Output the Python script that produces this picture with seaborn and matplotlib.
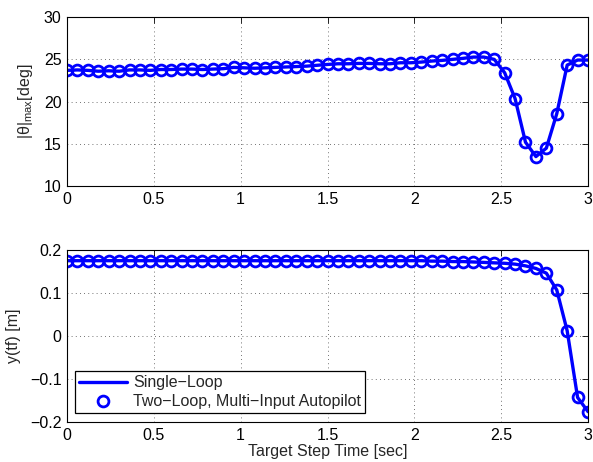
import numpy as np
import pandas as pd
import matplotlib
matplotlib.use("Agg")
import matplotlib.pyplot as plt
import seaborn as sns

# ---------------- data ----------------
step_time = [round(0.06 * i, 2) for i in range(51)]

theta_max = [23.7, 23.75, 23.7, 23.6, 23.65, 23.6, 23.75, 23.75, 23.7, 23.8,
             23.8, 23.85, 23.85, 23.8, 23.85, 23.9, 24.05, 24.0, 23.95, 24.0,
             24.05, 24.1, 24.15, 24.2, 24.3, 24.4, 24.48, 24.48, 24.52, 24.52,
             24.48, 24.48, 24.6, 24.6, 24.68, 24.8, 24.88, 25.0, 25.12, 25.27,
             25.27, 25.0, 23.42, 20.36, 15.2, 13.5, 14.5, 18.57, 24.32, 24.92,
             24.92]

y_tf = [0.175] * 34 + [0.175, 0.174, 0.174, 0.173, 0.173, 0.172, 0.171,
                        0.170, 0.169, 0.167, 0.163, 0.157, 0.146, 0.107,
                        0.012, -0.143, -0.176]

xticks = [0, 0.5, 1, 1.5, 2, 2.5, 3]
yticks_top = [10, 15, 20, 25, 30]
yticks_bot = [-0.2, -0.1, 0, 0.1, 0.2]

label_single = "Single\u2212Loop"
label_two = "Two\u2212Loop, Multi\u2212Input Autopilot"

df = pd.DataFrame({"t": step_time, "theta": theta_max, "y": y_tf})

# ---------------- style ----------------
sns.set_style("white")
plt.rcParams["font.family"] = ["Liberation Sans", "DejaVu Sans"]
FS = 11.5
plt.rcParams["font.size"] = FS
plt.rcParams["axes.unicode_minus"] = True
plt.rcParams["mathtext.fontset"] = "custom"
plt.rcParams["mathtext.rm"] = "Liberation Sans"
plt.rcParams["mathtext.it"] = "Liberation Sans:italic"

fig = plt.figure(figsize=(5.93, 4.62), dpi=100)
ax1 = fig.add_axes([0.113, 0.597, 0.8786, 0.366])
ax2 = fig.add_axes([0.113, 0.0866, 0.8786, 0.3724])

blue = "#0000FF"

def draw(ax, col, legend):
    sns.lineplot(data=df, x="t", y=col, ax=ax, color=blue, linewidth=2.4,
                 label=label_single if legend else None, legend=False)
    sns.lineplot(data=df, x="t", y=col, ax=ax, color=blue, linestyle="",
                 marker="o", markersize=7.8, markerfacecolor="none",
                 markeredgecolor=blue, markeredgewidth=2.0,
                 label=label_two if legend else None, legend=False)

draw(ax1, "theta", False)
draw(ax2, "y", True)

def style(ax, yticks, ylim):
    ax.set_xlim(0, 3)
    ax.set_ylim(*ylim)
    ax.set_xticks(xticks)
    ax.set_xticklabels([f"{v:g}" for v in xticks])
    ax.set_yticks(yticks)
    ax.set_yticklabels([f"{v:g}".replace("-", "\u2212") for v in yticks])
    ax.grid(True, color="#444444", linestyle=(0, (1, 4)), linewidth=0.6)
    ax.tick_params(direction="in", top=True, right=True, length=4,
                   width=0.6, labelsize=FS, colors="k", pad=4)
    for s in ax.spines.values():
        s.set_visible(True)
        s.set_color("k")
        s.set_linewidth(0.8)

style(ax1, yticks_top, (10, 30))
style(ax2, yticks_bot, (-0.2, 0.2))

ax1.set_xlabel("")
ax1.set_ylabel(r"|θ|$_{\mathrm{max}}$[deg]", fontsize=FS, labelpad=6)
ax2.set_xlabel("Target Step Time [sec]", fontsize=FS, labelpad=1)
ax2.set_ylabel("y(tf) [m]", fontsize=FS, labelpad=6)

leg = ax2.legend(loc="lower left", bbox_to_anchor=(0.015, 0.05),
                 borderaxespad=0, frameon=True, fancybox=False,
                 fontsize=FS, handlelength=3.0, handletextpad=0.4,
                 borderpad=0.25, labelspacing=0.25)
leg.get_frame().set_edgecolor("k")
leg.get_frame().set_linewidth(0.9)
leg.get_frame().set_alpha(1)

fig.savefig("out.png", dpi=100)
